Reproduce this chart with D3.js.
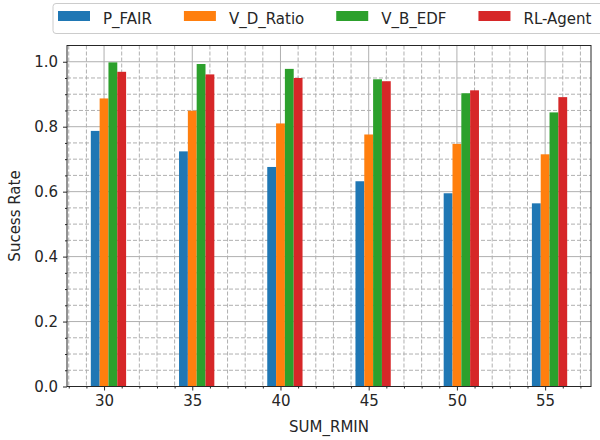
<!DOCTYPE html>
<html>
<head>
<meta charset="utf-8">
<script src="https://cdn.jsdelivr.net/npm/d3@7"></script>
<style>
  body { margin: 0; background: #fff; }
  text { font-family: "DejaVu Sans", sans-serif; fill: #262626; }
</style>
</head>
<body>
<div id="chart"></div>
<script>
const categories = [30, 35, 40, 45, 50, 55];
const seriesNames = ["P_FAIR", "V_D_Ratio", "V_B_EDF", "RL-Agent"];
const pFair = [0.787, 0.724, 0.676, 0.632, 0.595, 0.564];
const vdRatio = [0.887, 0.849, 0.810, 0.776, 0.747, 0.715];
const vbEdf = [0.998, 0.993, 0.978, 0.946, 0.903, 0.844];
const rlAgent = [0.969, 0.961, 0.950, 0.940, 0.912, 0.891];
const yTicks = [0.0, 0.2, 0.4, 0.6, 0.8, 1.0];

const colors = ["#1f77b4", "#ff7f0e", "#2ca02c", "#d62728"];
const allSeries = [pFair, vdRatio, vbEdf, rlAgent];
const offsets = [-0.5, 0, 0.5, 1];
const barWidth = 0.5;

let svgDimensions = [600, 440];
let svg = d3.select('#chart')
  .append('svg')
    .attr('width', svgDimensions[0])
    .attr('height', svgDimensions[1]);

let plotLeft = 67, plotRight = 591, plotTop = 45.5, plotBottom = 386.5;

let x = d3.scaleLinear().domain([27.9, 57.6]).range([plotLeft, plotRight]);
let y = d3.scaleLinear().domain([0, 1.05]).range([plotBottom, plotTop]);

// grid: minor dashed, major solid
let minorX = d3.range(28, 58, 1).filter(v => v % 5 !== 0);
let minorY = d3.range(0.05, 1.05, 0.05).filter(v => Math.abs(v * 5 - Math.round(v * 5)) > 1e-6);

let grid = svg.append('g');
grid.selectAll('.vminor').data(minorX).enter().append('line')
  .attr('x1', d => x(d)).attr('x2', d => x(d))
  .attr('y1', plotTop).attr('y2', plotBottom)
  .attr('stroke', '#b0b0b0').attr('stroke-dasharray', '4,2');
grid.selectAll('.hminor').data(minorY).enter().append('line')
  .attr('x1', plotLeft).attr('x2', plotRight)
  .attr('y1', d => y(d)).attr('y2', d => y(d))
  .attr('stroke', '#b0b0b0').attr('stroke-dasharray', '4,2');
grid.selectAll('.vmajor').data(categories).enter().append('line')
  .attr('x1', d => x(d)).attr('x2', d => x(d))
  .attr('y1', plotTop).attr('y2', plotBottom)
  .attr('stroke', '#b0b0b0');
grid.selectAll('.hmajor').data(yTicks).enter().append('line')
  .attr('x1', plotLeft).attr('x2', plotRight)
  .attr('y1', d => y(d)).attr('y2', d => y(d))
  .attr('stroke', '#b0b0b0');

// bars
allSeries.forEach((vals, s) => {
  svg.append('g').selectAll('rect')
    .data(vals)
    .enter()
    .append('rect')
    .attr('x', (d, i) => x(categories[i] + offsets[s] - barWidth / 2))
    .attr('width', (d, i) => x(categories[i] + offsets[s] + barWidth / 2) - x(categories[i] + offsets[s] - barWidth / 2))
    .attr('y', d => y(d))
    .attr('height', d => y(0) - y(d))
    .attr('fill', colors[s]);
});

// axes
svg.append('g')
  .attr('transform', `translate(0,${plotBottom})`)
  .call(d3.axisBottom(x).tickValues(categories).tickSize(4).tickPadding(5).tickFormat(d3.format('d')));
svg.append('g')
  .attr('transform', `translate(0,${plotBottom})`)
  .call(d3.axisBottom(x).tickValues(minorX).tickSize(2).tickFormat(''));

svg.append('g')
  .attr('transform', `translate(${plotLeft},0)`)
  .call(d3.axisLeft(y).tickValues(yTicks).tickSize(4).tickPadding(5).tickFormat(d3.format('.1f')));
svg.append('g')
  .attr('transform', `translate(${plotLeft},0)`)
  .call(d3.axisLeft(y).tickValues(minorY).tickSize(2).tickFormat(''));

svg.selectAll('.tick text').attr('font-size', 15).attr('font-family', '"DejaVu Sans", sans-serif').attr('fill', '#262626');
svg.selectAll('.tick line').attr('stroke', '#262626');
svg.selectAll('.domain').remove();

// frame
svg.append('rect')
  .attr('x', plotLeft).attr('y', plotTop)
  .attr('width', plotRight - plotLeft).attr('height', plotBottom - plotTop)
  .attr('fill', 'none').attr('stroke', '#262626').attr('stroke-width', 1);

// axis labels
svg.append('text')
  .attr('x', (plotLeft + plotRight) / 2).attr('y', 432)
  .attr('text-anchor', 'middle').attr('font-size', 15)
  .text('SUM_RMIN');
svg.append('text')
  .attr('transform', `translate(20,${(plotTop + plotBottom) / 2}) rotate(-90)`)
  .attr('text-anchor', 'middle').attr('font-size', 15)
  .text('Sucess Rate');

// legend
let legend = svg.append('g');
legend.append('rect')
  .attr('x', 53).attr('y', 3.5)
  .attr('width', 570).attr('height', 30)
  .attr('rx', 3)
  .attr('fill', '#fff').attr('fill-opacity', 0.8)
  .attr('stroke', '#cccccc');
let lx = 58;
seriesNames.forEach((name, i) => {
  legend.append('rect')
    .attr('x', lx).attr('y', 11)
    .attr('width', 32).attr('height', 10)
    .attr('fill', colors[i]);
  let t = legend.append('text')
    .attr('x', lx + 45).attr('y', 24)
    .attr('font-size', 15)
    .text(name);
  lx = lx + 45 + t.node().getComputedTextLength() + 32;
});
</script>
</body>
</html>
